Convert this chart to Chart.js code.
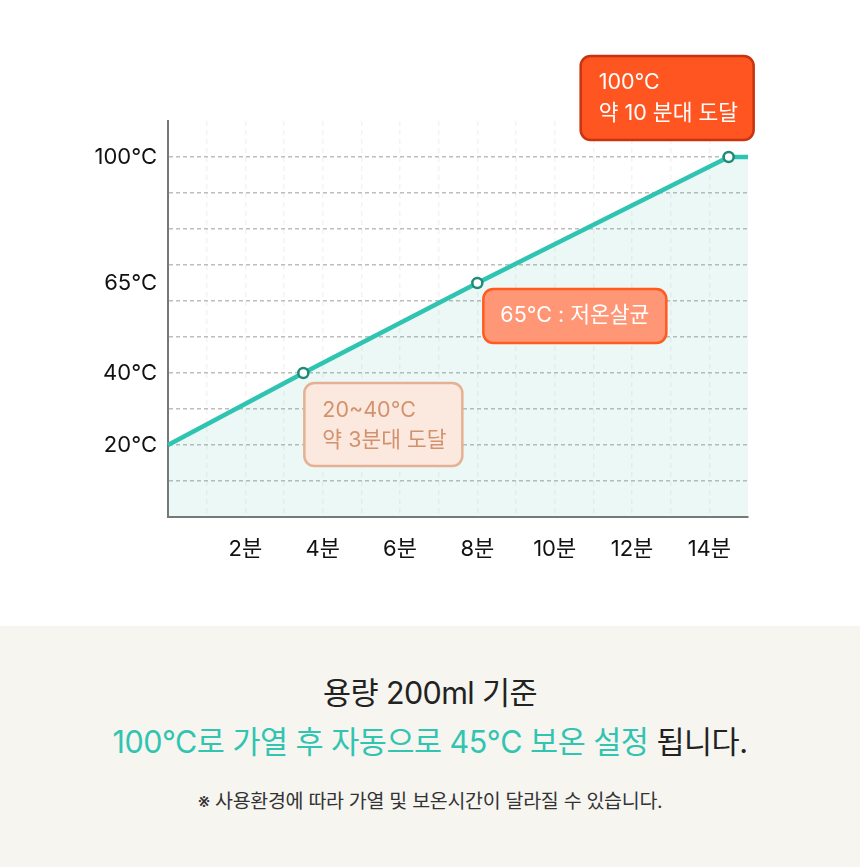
<!DOCTYPE html>
<html lang="ko">
<head>
<meta charset="utf-8">
<script src="https://cdn.jsdelivr.net/npm/chart.js@4.4.1/dist/chart.umd.min.js"></script>
<style>
  html, body { margin: 0; padding: 0; background: #fff; }
  body { width: 860px; height: 867px; position: relative; overflow: hidden;
    font-family: Inter, "Noto Sans CJK KR", sans-serif; }
  #wrap { position: absolute; left: 0; top: 0; width: 860px; height: 626px; }
  #note { position: absolute; left: 0; top: 626px; width: 860px; height: 241px;
    background: #f6f5f0; text-align: center; }
  .t1 { position: absolute; left: 0; right: 0; top: 49px; line-height: 36px; font-size: 30.5px; color: #222; letter-spacing: -0.6px; }
  .t2 { position: absolute; left: 0; right: 0; top: 96px; line-height: 40px; font-size: 30.5px; color: #222; letter-spacing: -0.5px; }
  .t2 .hl { color: #30c4b1; }
  .t3 { position: absolute; left: 0; right: 0; top: 163px; line-height: 24px; font-size: 19.5px; color: #333; letter-spacing: -0.3px; }
</style>
</head>
<body>
<div id="wrap"><canvas id="heatChart" width="860" height="626"></canvas></div>
<div id="note">
  <div class="t1">용량 200ml 기준</div>
  <div class="t2"><span class="hl">100°C로 가열 후 자동으로 45°C 보온 설정</span> 됩니다.</div>
  <div class="t3">※ 사용환경에 따라 가열 및 보온시간이 달라질 수 있습니다.</div>
</div>
<script>
// heating curve (minutes, °C)
const timeMin = [0, 3.5, 8, 14.5, 15];
const tempC = [20, 40, 65, 100, 100];
const markedIdx = [1, 2, 3];

const xTickLabels = [2, 4, 6, 8, 10, 12, 14];
const yTickLabels = [20, 40, 65, 100];
const yGridValues = [10, 20, 30, 40, 50, 60, 70, 80, 90, 100];

const calloutIdx = [3, 2, 1];
const calloutText = [
  ["100°C", "약 10 분대 도달"],
  ["65°C : 저온살균"],
  ["20~40°C", "약 3분대 도달"],
];

const FONT = 'Inter, "Noto Sans CJK KR", sans-serif';
Chart.defaults.font.family = FONT;

// box look for each callout, offsets from the anchor point
const calloutStyle = [
  { dx: -148, dy: -101, w: 173, h: 84, fill: "#ff5520", stroke: "#c9330f", color: "#fff", align: "left", rows: [27, 58] },
  { dx: 6, dy: 6, w: 183, h: 54, fill: "#ff9676", stroke: "#ff5a1f", color: "#fff", align: "center", rows: [27] },
  { dx: 1, dy: 10, w: 158, h: 83, fill: "#fbe8de", stroke: "#e6b193", color: "#d3926e", align: "left", rows: [28, 58] },
];

const calloutPlugin = {
  id: "callouts",
  afterDatasetsDraw(chart) {
    const ctx = chart.ctx;
    const meta = chart.getDatasetMeta(0);
    calloutIdx.forEach((idx, i) => {
      const pt = meta.data[idx];
      const s = calloutStyle[i];
      const x = pt.x + s.dx;
      const y = pt.y + s.dy;
      ctx.save();
      ctx.beginPath();
      ctx.roundRect(x, y, s.w, s.h, 10);
      ctx.fillStyle = s.fill;
      ctx.fill();
      ctx.lineWidth = 2.5;
      ctx.strokeStyle = s.stroke;
      ctx.stroke();
      ctx.fillStyle = s.color;
      ctx.font = "21.5px " + FONT;
      ctx.textBaseline = "middle";
      ctx.textAlign = s.align;
      calloutText[i].forEach((line, j) => {
        const tx = s.align === "center" ? x + s.w / 2 : x + 18;
        ctx.fillText(line, tx, y + s.rows[j]);
      });
      ctx.restore();
    });
  },
};

const points = timeMin.map((t, i) => ({ x: t, y: tempC[i] }));

new Chart(document.getElementById("heatChart"), {
  type: "line",
  data: {
    datasets: [
      {
        data: points,
        borderColor: "#2fc4b1",
        borderWidth: 4.5,
        backgroundColor: "rgba(40, 180, 150, 0.09)",
        fill: "origin",
        tension: 0,
        clip: false,
        pointRadius: (c) => (markedIdx.includes(c.dataIndex) ? 5 : 0),
        pointBackgroundColor: "#fff",
        pointBorderColor: "#1f8a78",
        pointBorderWidth: 2.5,
      },
    ],
  },
  options: {
    responsive: false,
    animation: false,
    layout: { padding: { top: 121, right: 112, bottom: 0, left: 0 } },
    plugins: { legend: { display: false }, tooltip: { enabled: false } },
    scales: {
      x: {
        type: "linear",
        min: 0,
        max: 15,
        afterFit: (s) => { s.height = 109; },
        ticks: {
          stepSize: 1,
          autoSkip: false,
          maxRotation: 0,
          padding: 19,
          color: "#111",
          font: { size: 22 },
          callback: (v) => (xTickLabels.includes(v) ? v + "분" : ""),
        },
        grid: {
          drawTicks: false,
          lineWidth: 1.5,
          color: (c) => (c.tick && c.tick.value > 0 && c.tick.value < 15 ? "#f3f3f3" : "transparent"),
        },
        border: { color: "#777", width: 2, dash: [5, 4] },
      },
      y: {
        min: 0,
        max: 110,
        afterFit: (s) => { s.width = 168; },
        afterBuildTicks: (s) => {
          s.ticks = [0, ...yGridValues, 65, 110].map((v) => ({ value: v }));
        },
        ticks: {
          autoSkip: false,
          padding: 11,
          color: "#111",
          font: { size: 22 },
          callback: (v) => (yTickLabels.includes(v) ? v + "°C" : ""),
        },
        grid: {
          drawTicks: false,
          lineWidth: 1.5,
          color: (c) => (c.tick && yGridValues.includes(c.tick.value) ? "#bdbdbd" : "transparent"),
        },
        border: { color: "#777", width: 2, dash: [4, 3] },
      },
    },
  },
  plugins: [calloutPlugin],
});
</script>
</body>
</html>
